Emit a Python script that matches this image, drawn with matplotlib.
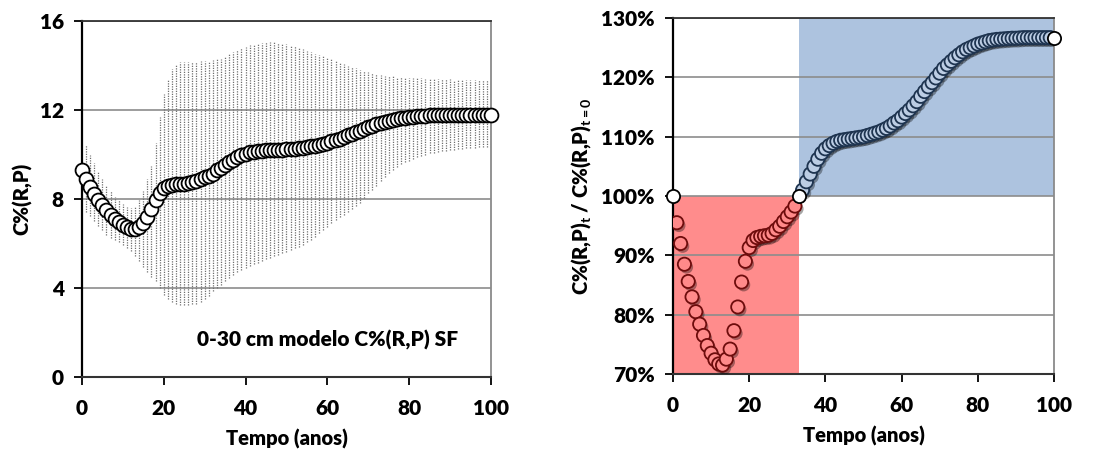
import numpy as np
import matplotlib
matplotlib.use("Agg")
import matplotlib.pyplot as plt
import matplotlib.patheffects as pe

# ==============================
# Data
# ==============================

anos = np.arange(0, 101)

# C%(R,P)_t / C%(R,P)_t=0, in %
razao = [
    100.0, 95.5, 92.0, 88.5, 85.6, 83.0, 80.5, 78.4, 76.5, 74.8,
    73.5, 72.4, 71.7, 71.5, 72.5, 74.2, 77.3, 81.3, 85.5, 89.0,
    91.3, 92.5, 93.0, 93.2, 93.3, 93.4, 93.7, 94.3, 94.9, 95.7,
    96.5, 97.3, 98.3, 100.0, 101.0, 102.4, 103.7, 105.0, 106.2, 107.2,
    107.95, 108.5, 108.9, 109.2, 109.4, 109.5, 109.6, 109.7, 109.8, 109.9,
    110.0, 110.2, 110.4, 110.6, 110.8, 111.1, 111.4, 111.8, 112.3, 112.7,
    113.3, 113.9, 114.5, 115.2, 115.9, 116.8, 117.6, 118.4, 119.1, 119.9,
    120.7, 121.5, 122.1, 122.7, 123.3, 123.8, 124.3, 124.7, 125.0, 125.3,
    125.6, 125.8, 126.0, 126.2, 126.3, 126.4, 126.45, 126.5, 126.55, 126.6,
    126.6, 126.65, 126.7, 126.7, 126.7, 126.7, 126.7, 126.7, 126.7, 126.7,
    126.7,
]

c_t0 = 9.3  # C%(R,P) at t = 0

c_sup = [
    10.6, 10.43, 10.0, 9.6, 9.2, 8.9, 8.6, 8.35, 8.1, 7.95,
    7.78, 7.65, 7.6, 7.7, 7.95, 8.35, 8.9, 9.5, 10.5, 11.7,
    12.7, 13.4, 13.85, 14.05, 14.15, 14.15, 14.15, 14.15, 14.15, 14.2,
    14.2, 14.2, 14.25, 14.3, 14.3, 14.4, 14.5, 14.6, 14.7, 14.78,
    14.85, 14.9, 14.95, 15.0, 15.03, 15.05, 15.05, 15.04, 15.02, 15.0,
    14.97, 14.92, 14.86, 14.8, 14.74, 14.67, 14.6, 14.54, 14.48, 14.43,
    14.38, 14.3, 14.22, 14.14, 14.07, 14.0, 13.93, 13.87, 13.8, 13.75,
    13.7, 13.66, 13.62, 13.58, 13.55, 13.53, 13.51, 13.49, 13.47, 13.45,
    13.44, 13.43, 13.42, 13.42, 13.41, 13.4, 13.4, 13.39, 13.39, 13.38,
    13.38, 13.37, 13.37, 13.36, 13.36, 13.36, 13.35, 13.35, 13.35, 13.35,
    13.35,
]

c_inf = [
    8.0, 7.43, 7.25, 7.0, 6.8, 6.6, 6.4, 6.25, 6.15, 6.05,
    5.95, 5.8, 5.65, 5.45, 5.2, 4.95, 4.7, 4.5, 4.3, 4.0,
    3.7, 3.5, 3.37, 3.3, 3.25, 3.25, 3.25, 3.27, 3.3, 3.37,
    3.5, 3.65, 3.85, 4.0, 4.15, 4.3, 4.45, 4.58, 4.7, 4.8,
    4.9, 4.98, 5.06, 5.14, 5.22, 5.3, 5.37, 5.44, 5.5, 5.56,
    5.62, 5.7, 5.78, 5.86, 5.95, 6.05, 6.15, 6.3, 6.45, 6.6,
    6.75, 6.9, 7.05, 7.18, 7.3, 7.42, 7.55, 7.68, 7.84, 8.03,
    8.25, 8.4, 8.6, 8.8, 9.0, 9.18, 9.32, 9.45, 9.56, 9.65,
    9.73, 9.8, 9.87, 9.94, 10.0, 10.05, 10.09, 10.12, 10.15, 10.18,
    10.2, 10.22, 10.24, 10.26, 10.28, 10.3, 10.31, 10.32, 10.33, 10.34,
    10.35,
]

t_cruz = 33  # year where the ratio is back to 100%

razao = np.array(razao) / 100.0
c_rp = razao * c_t0

# ==============================
# Style
# ==============================

plt.rcParams["font.family"] = ["Lato", "DejaVu Sans"]
plt.rcParams["font.weight"] = "bold"
plt.rcParams["font.size"] = 14.5
plt.rcParams["mathtext.fontset"] = "custom"
plt.rcParams["mathtext.rm"] = "Lato:bold"
plt.rcParams["mathtext.it"] = "Lato:bold"
plt.rcParams["mathtext.bf"] = "Lato:bold"

fig = plt.figure(figsize=(11, 4.54), dpi=100)
ax1 = fig.add_axes([0.0745, 0.1696, 0.3718, 0.7841])
ax2 = fig.add_axes([0.6118, 0.1762, 0.3464, 0.7841])


def frame(ax):
    ax.spines["left"].set_color("black")
    ax.spines["left"].set_linewidth(1.6)
    ax.spines["bottom"].set_color("#333333")
    ax.spines["bottom"].set_linewidth(1.5)
    ax.spines["top"].set_color("#333333")
    ax.spines["top"].set_linewidth(1.3)
    ax.spines["right"].set_color("#8a8a8a")
    ax.spines["right"].set_linewidth(1.3)
    ax.tick_params(direction="out", length=6, width=1.3, color="black",
                   pad=7, labelsize=15)
    ax.tick_params(axis="x", pad=10)
    ax.grid(axis="y", color="#8c8c8c", linewidth=1.2)
    ax.set_xlim(0, 100)
    ax.set_xticks([0, 20, 40, 60, 80, 100])
    for lab in ax.get_xticklabels() + ax.get_yticklabels():
        lab.set_fontweight("heavy")


# ===================================================
# GRAPH 1 : C%(R,P) with dotted ranges
# ===================================================

ax1.vlines(anos[1:], c_inf[1:], c_sup[1:], colors="#6e6e6e",
           linewidth=0.9, linestyles=(0, (1, 1)), zorder=2)
ax1.plot(anos, c_rp, "o", markersize=10, markerfacecolor="white",
         markeredgecolor="black", markeredgewidth=1.3, zorder=3, clip_on=False)

ax1.set_ylim(0, 16)
ax1.set_yticks([0, 4, 8, 12, 16])
frame(ax1)
ax1.set_xlabel("Tempo (anos)", fontweight="heavy", labelpad=8)
ax1.set_ylabel("C%(R,P)", fontweight="heavy", labelpad=5)
ax1.text(0.6, 0.104, "0-30 cm modelo C%(R,P) SF", transform=ax1.transAxes,
         ha="center", va="center", fontsize=15, fontweight="heavy")

# ===================================================
# GRAPH 2 : ratio to t = 0
# ===================================================

ax2.fill_between([0, t_cruz], 0.70, 1.00, color="#ff8c8c", linewidth=0, zorder=1)
ax2.fill_between([t_cruz, 100], 1.00, 1.30, color="#adc3df", linewidth=0, zorder=1)

sombra = [pe.SimplePatchShadow(offset=(1.5, -2), shadow_rgbFace="black", alpha=0.35),
          pe.Normal()]

verm = (anos > 0) & (anos < t_cruz)
azul = (anos > t_cruz) & (anos < 100)
bran = ~(verm | azul)

ax2.plot(anos[verm], razao[verm], "o", markersize=9.5, markerfacecolor="#ff8a8a",
         markeredgecolor="#6e0c0c", markeredgewidth=1.3, zorder=3,
         path_effects=sombra)
ax2.plot(anos[azul], razao[azul], "o", markersize=9.5, markerfacecolor="#bccde4",
         markeredgecolor="#1e3450", markeredgewidth=1.3, zorder=3,
         path_effects=sombra)
ax2.plot(anos[bran], razao[bran], "o", markersize=9.5, markerfacecolor="white",
         markeredgecolor="black", markeredgewidth=1.3, zorder=4, clip_on=False)

ax2.set_ylim(0.70, 1.30)
ax2.set_yticks([0.7, 0.8, 0.9, 1.0, 1.1, 1.2, 1.3])
ax2.set_yticklabels([f"{int(round(v * 100))}%" for v in ax2.get_yticks()])
frame(ax2)
ax2.set_xlabel("Tempo (anos)", fontweight="heavy", labelpad=8)
ax2.set_ylabel(r"C%(R,P)$_{\mathrm{t}}$ / C%(R,P)$_{\mathrm{t=0}}$",
               fontweight="heavy", labelpad=6)

plt.savefig("out.png", dpi=100)
